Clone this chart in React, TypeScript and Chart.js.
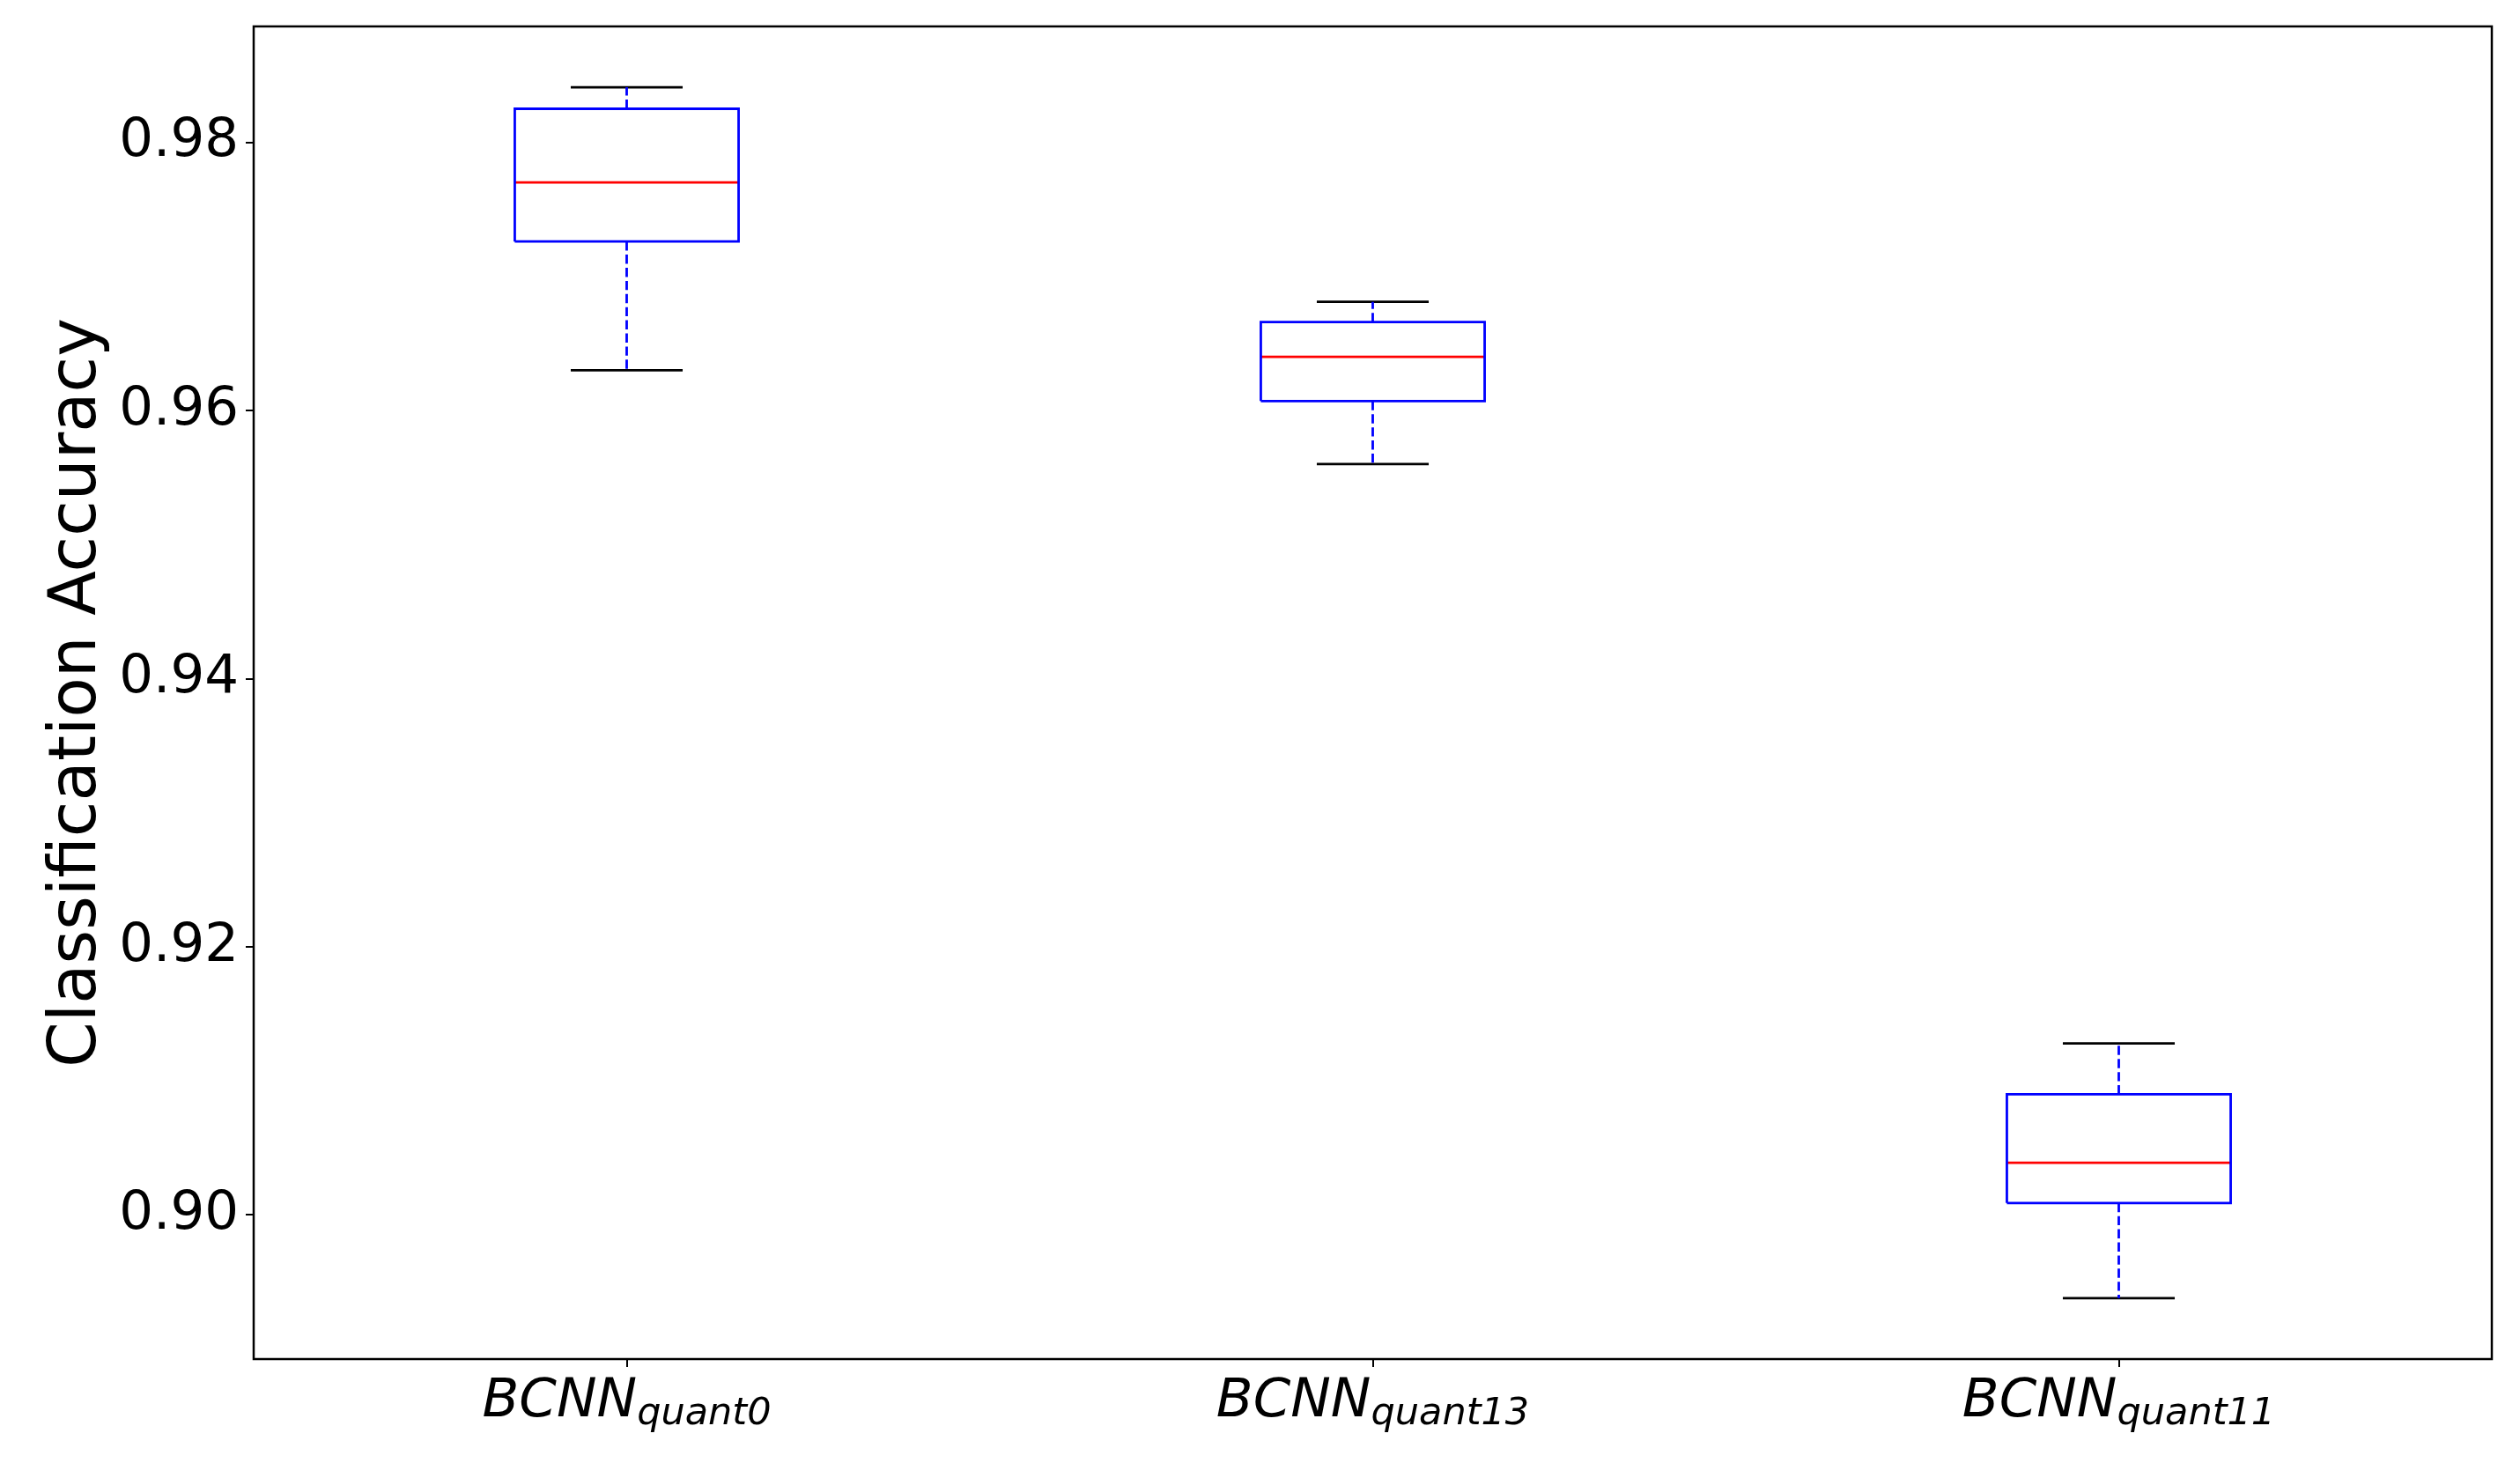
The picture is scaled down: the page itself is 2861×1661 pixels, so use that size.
import React, { useEffect, useRef } from "react";
import { Chart, registerables } from "chart.js";

Chart.register(...registerables);

// ---- data ----
const labelMain = "BCNN";
const labelSubs = ["quant0", "quant13", "quant11"];
const positions = [1, 2, 3];
const whiskerLow = [0.963, 0.956, 0.8938];
const q1 = [0.9726, 0.9607, 0.9009];
const median = [0.977, 0.964, 0.9039];
const q3 = [0.9825, 0.9666, 0.909];
const whiskerHigh = [0.9841, 0.9681, 0.9128];
const yTicks = [0.9, 0.92, 0.94, 0.96, 0.98];
const yMin = 0.88926;
const yMax = 0.98864;
const yTitle = "Classification Accuracy";

const BOX_HALF = 0.15;
const CAP_HALF = 0.075;
const LW = 2.8;

type P = { x: number; y: number | null };

function buildBoxes(): P[] {
  const out: P[] = [];
  positions.forEach((p, i) => {
    out.push({ x: p - BOX_HALF, y: q1[i] });
    out.push({ x: p + BOX_HALF, y: q1[i] });
    out.push({ x: p + BOX_HALF, y: q3[i] });
    out.push({ x: p - BOX_HALF, y: q3[i] });
    out.push({ x: p - BOX_HALF, y: q1[i] });
    out.push({ x: p, y: null });
  });
  return out;
}
function buildMedians(): P[] {
  const out: P[] = [];
  positions.forEach((p, i) => {
    out.push({ x: p - BOX_HALF, y: median[i] });
    out.push({ x: p + BOX_HALF, y: median[i] });
    out.push({ x: p, y: null });
  });
  return out;
}
function buildWhiskers(): P[] {
  const out: P[] = [];
  positions.forEach((p, i) => {
    out.push({ x: p, y: q1[i] });
    out.push({ x: p, y: whiskerLow[i] });
    out.push({ x: p, y: null });
    out.push({ x: p, y: q3[i] });
    out.push({ x: p, y: whiskerHigh[i] });
    out.push({ x: p, y: null });
  });
  return out;
}
function buildCaps(): P[] {
  const out: P[] = [];
  positions.forEach((p, i) => {
    out.push({ x: p - CAP_HALF, y: whiskerLow[i] });
    out.push({ x: p + CAP_HALF, y: whiskerLow[i] });
    out.push({ x: p, y: null });
    out.push({ x: p - CAP_HALF, y: whiskerHigh[i] });
    out.push({ x: p + CAP_HALF, y: whiskerHigh[i] });
    out.push({ x: p, y: null });
  });
  return out;
}

const framePlugin = {
  id: "frameAndLabels",
  afterDraw(chart: any) {
    const { ctx, chartArea } = chart;
    ctx.save();
    ctx.strokeStyle = "#000";
    ctx.lineWidth = 2.5;
    ctx.strokeRect(
      chartArea.left,
      chartArea.top,
      chartArea.right - chartArea.left,
      chartArea.bottom - chartArea.top
    );
    // x tick labels with subscripts
    const xs = chart.scales.x;
    ctx.fillStyle = "#000";
    ctx.textBaseline = "alphabetic";
    ctx.textAlign = "left";
    positions.forEach((p, i) => {
      const cx = xs.getPixelForValue(p);
      ctx.font = 'italic 61px "DejaVu Sans"';
      const wMain = ctx.measureText(labelMain).width;
      ctx.font = 'italic 43px "DejaVu Sans"';
      const wSub = ctx.measureText(labelSubs[i]).width;
      const start = cx - (wMain + wSub) / 2;
      const base = chartArea.bottom + 65;
      ctx.font = 'italic 61px "DejaVu Sans"';
      ctx.fillText(labelMain, start, base);
      ctx.font = 'italic 43px "DejaVu Sans"';
      ctx.fillText(labelSubs[i], start + wMain, base + 9);
    });
    ctx.restore();
  },
};

export default function App() {
  const ref = useRef<HTMLCanvasElement | null>(null);
  useEffect(() => {
    if (!ref.current) return;
    const line = (data: P[], color: string, dash: number[] = []) => ({
      type: "scatter" as const,
      data,
      showLine: true,
      spanGaps: false,
      borderColor: color,
      backgroundColor: color,
      borderWidth: LW,
      borderDash: dash,
      pointRadius: 0,
      pointHoverRadius: 0,
      borderCapStyle: "butt",
    });
    const zeroPad = (s: any) => {
      s.paddingTop = 0;
      s.paddingBottom = 0;
      s.paddingLeft = 0;
      s.paddingRight = 0;
    };
    const chart = new Chart(ref.current, {
      type: "scatter",
      data: {
        datasets: [
          line(buildWhiskers(), "#0000ff", [10.4, 4.5]),
          line(buildCaps(), "#000000"),
          line(buildBoxes(), "#0000ff"),
          line(buildMedians(), "#ff0000"),
        ] as any,
      },
      plugins: [framePlugin],
      options: {
        animation: false,
        responsive: false,
        maintainAspectRatio: false,
        layout: { autoPadding: false, padding: { left: 0, top: 30, right: 32, bottom: 0 } },
        plugins: {
          legend: { display: false },
          tooltip: { enabled: false },
        },
        scales: {
          x: {
            type: "linear",
            min: 0.5,
            max: 3.5,
            afterBuildTicks: (s: any) => {
              s.ticks = positions.map((v) => ({ value: v }));
            },
            afterFit: (s: any) => {
              s.height = 118;
              zeroPad(s);
            },
            ticks: { callback: () => "", font: { size: 10 } },
            grid: {
              drawOnChartArea: false,
              drawTicks: true,
              tickLength: 9,
              color: "#000",
              lineWidth: 2,
            },
            border: { display: false },
          },
          y: {
            type: "linear",
            min: yMin,
            max: yMax,
            afterBuildTicks: (s: any) => {
              s.ticks = yTicks.map((v) => ({ value: v }));
            },
            afterFit: (s: any) => {
              s.width = 288;
              zeroPad(s);
            },
            ticks: {
              color: "#000",
              padding: 8,
              font: { family: '"DejaVu Sans"', size: 61 },
              callback: (v: any) => Number(v).toFixed(2),
            },
            grid: {
              drawOnChartArea: false,
              drawTicks: true,
              tickLength: 9,
              color: "#000",
              lineWidth: 2,
            },
            border: { display: false },
            title: {
              display: true,
              text: yTitle,
              color: "#000",
              font: { family: '"DejaVu Sans"', size: 74 },
              padding: { top: 44, bottom: 0 },
            },
          },
        },
      } as any,
    });
    return () => chart.destroy();
  }, []);
  return (
    <div style={{ position: "fixed", left: 0, top: 0, width: 2861, height: 1661, background: "#fff" }}>
      <canvas ref={ref} width={2861} height={1661} style={{ display: "block", width: 2861, height: 1661 }} />
    </div>
  );
}
